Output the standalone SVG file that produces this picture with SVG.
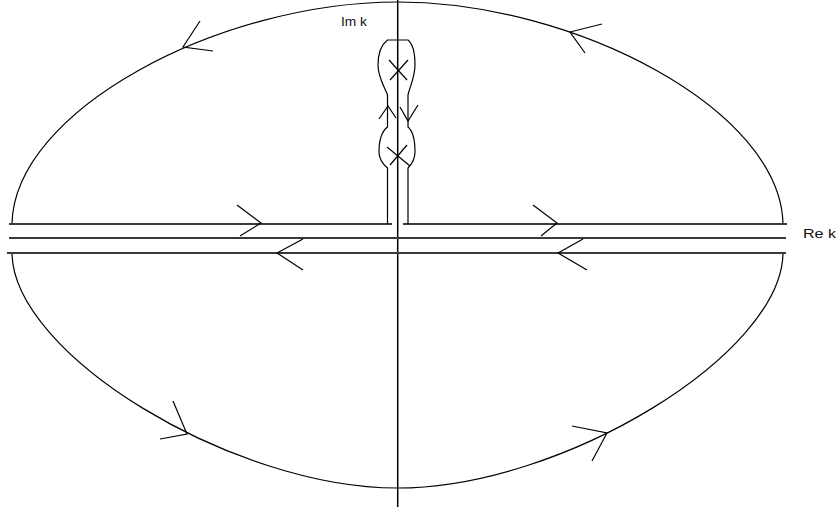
<svg xmlns="http://www.w3.org/2000/svg" width="838" height="512" viewBox="0 0 838 512">
  <style>
    .c { fill: none; stroke: #000; stroke-width: 1.2; }
    .h { fill: none; stroke: #3a3a3a; stroke-width: 1.8; }
    .ax { fill: none; stroke: #000; stroke-width: 1.5; }
    .ar { fill: none; stroke: #000; stroke-width: 1.2; stroke-linejoin: miter; }
    .t { font-family: "Liberation Sans", Arial, sans-serif; font-size: 13px; fill: #111; }
  </style>
  <rect width="838" height="512" fill="#fff"/>
  <g id="axes">
    <line class="ax" x1="397.7" y1="0" x2="397.7" y2="507"/>
  </g>
  <g id="contour">
    <path class="c" d="M12,224 C14,110 220,2 397.5,2 C575,2 781,110 783,224"/>
    <path class="c" d="M12,253 C13,354 232,488 397.5,488 C563,488 782,354 783,253"/>
    <line class="h" x1="9" y1="224" x2="392" y2="224"/>
    <line class="h" x1="403" y1="224" x2="787" y2="224"/>
    <line class="h" x1="9" y1="238" x2="786" y2="238"/>
    <line class="h" x1="7" y1="253" x2="786" y2="253"/>
  </g>
  <g id="keyhole">
    <path class="c" d="M387.5,224 V168 C384,165 379,160 379,152 C379,142 381,132 387.5,127 V95 C384,86 378,77 378,65 C378,55 381,45 387.5,40 H408 C414,45 415,55 415,65 C415,77 410,86 408,95 V127 C414,132 415,142 415,152 C415,160 411,165 408,168 V224"/>
    <line class="c" x1="389" y1="60" x2="407" y2="80"/>
    <line class="c" x1="408" y1="60" x2="390" y2="80"/>
    <line class="c" x1="387" y1="147" x2="410" y2="166"/>
    <line class="c" x1="407" y1="145" x2="390" y2="165"/>
    <polyline class="ar" points="379,119 388,106 396,118"/>
    <polyline class="ar" points="400,107 408,121 418,105"/>
  </g>
  <g id="arrows">
    <polyline class="ar" points="200,21 183,47 213,51"/>
    <polyline class="ar" points="602,24 570,32 585,53"/>
    <polyline class="ar" points="173,401 187,434 160,439"/>
    <polyline class="ar" points="572,426 607,433 592,461"/>
    <polyline class="ar" points="237,205 261,223 240,236"/>
    <polyline class="ar" points="533,205 557,223 541,236"/>
    <polyline class="ar" points="303,239 277,253 303,270"/>
    <polyline class="ar" points="583,239 558,253 587,270"/>
  </g>
  <g id="labels">
    <text class="t" x="341" y="26" textLength="26" lengthAdjust="spacingAndGlyphs">Im k</text>
    <text class="t" x="803" y="238" textLength="33" lengthAdjust="spacingAndGlyphs">Re k</text>
  </g>
</svg>
